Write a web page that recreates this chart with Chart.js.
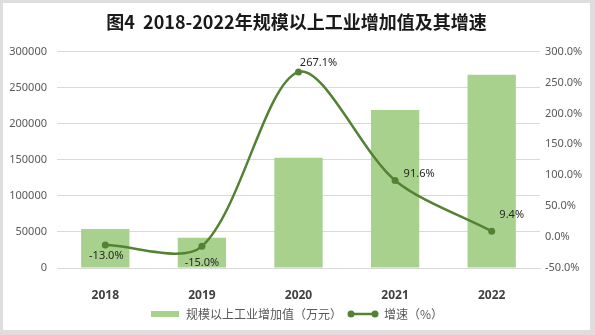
<!DOCTYPE html>
<html>
<head>
<meta charset="utf-8">
<script src="https://cdn.jsdelivr.net/npm/chart.js@4.4.1/dist/chart.umd.min.js"></script>
<style>
    html, body { margin: 0; padding: 0; background: #fff; }
    #frame {
        box-sizing: border-box;
        width: 595px;
        height: 335px;
        border-style: solid;
        border-color: #dedede;
        border-width: 3px 5px 5px 3px;
        background: #fff;
    }
    #frame canvas { display: block; }
</style>
</head>
<body>
<div id="frame"><canvas id="chart" width="587" height="327"></canvas></div>
<script>
// values
const years = ['2018', '2019', '2020', '2021', '2022'];
const addedValue = [54000, 42000, 153000, 219000, 268000];   // 万元
const growthRate = [-13.0, -15.0, 267.1, 91.6, 9.4];          // %

const BAR_COLOR = '#a9d18e';
const LINE_COLOR = '#548235';
const TICK_COLOR = '#595959';
const FONT = '"Noto Sans", "Noto Sans CJK SC", sans-serif';

// label offsets relative to each point (dx, dy), as Excel placed them
const labelOffsets = [[1, 11], [0, 16], [20, -9], [24, -7], [20, -16]];

// legend swatches: bar patch and line-with-markers
function barSwatch() {
    const c = document.createElement('canvas');
    c.width = 28; c.height = 6;
    const ctx = c.getContext('2d');
    ctx.fillStyle = BAR_COLOR;
    ctx.fillRect(0, 0, 28, 6);
    return c;
}

function lineSwatch() {
    const c = document.createElement('canvas');
    c.width = 32; c.height = 10;
    const ctx = c.getContext('2d');
    ctx.strokeStyle = LINE_COLOR;
    ctx.fillStyle = LINE_COLOR;
    ctx.lineWidth = 2.5;
    ctx.beginPath();
    ctx.moveTo(4, 5);
    ctx.lineTo(28, 5);
    ctx.stroke();
    [4, 28].forEach((x) => {
        ctx.beginPath();
        ctx.arc(x, 5, 3.5, 0, Math.PI * 2);
        ctx.fill();
    });
    return c;
}

const swatches = [barSwatch(), lineSwatch()];

const pointLabels = {
    id: 'pointLabels',
    afterDatasetsDraw(chart) {
        const meta = chart.getDatasetMeta(1);
        const { ctx } = chart;
        ctx.save();
        ctx.font = `11px ${FONT}`;
        ctx.fillStyle = '#262626';
        ctx.textAlign = 'center';
        ctx.textBaseline = 'middle';
        meta.data.forEach((pt, i) => {
            const [dx, dy] = labelOffsets[i];
            ctx.fillText(`${growthRate[i].toFixed(1)}%`, pt.x + dx, pt.y + dy);
        });
        ctx.restore();
    },
};

new Chart(document.getElementById('chart'), {
    type: 'bar',
    data: {
        labels: years,
        datasets: [
            {
                type: 'bar',
                label: '规模以上工业增加值（万元）',
                data: addedValue,
                backgroundColor: BAR_COLOR,
                barPercentage: 0.5,
                categoryPercentage: 1.0,
                yAxisID: 'y',
                order: 1,
            },
            {
                type: 'line',
                label: '增速（%）',
                data: growthRate,
                borderColor: LINE_COLOR,
                backgroundColor: LINE_COLOR,
                borderWidth: 2.5,
                pointRadius: 3.5,
                pointBackgroundColor: LINE_COLOR,
                pointBorderWidth: 0,
                tension: 0.3,
                yAxisID: 'y2',
                order: 0,
            },
        ],
    },
    options: {
        responsive: false,
        animation: false,
        layout: { padding: { top: 0, bottom: 0, left: 0, right: 0 } },
        plugins: {
            tooltip: { enabled: false },
            title: {
                display: true,
                text: '图4  2018-2022年规模以上工业增加值及其增速',
                color: '#1a1a1a',
                font: { family: '"Noto Sans CJK SC", sans-serif', size: 18, weight: 'bold' },
                padding: { top: 8, bottom: 19 },
            },
            legend: {
                position: 'bottom',
                labels: {
                    usePointStyle: true,
                    pointStyleWidth: 30,
                    padding: 6,
                    color: TICK_COLOR,
                    font: { family: '"Noto Sans CJK SC", sans-serif', size: 12 },
                    generateLabels: (chart) => chart.data.datasets.map((ds, i) => ({
                        text: ds.label,
                        fillStyle: LINE_COLOR,
                        strokeStyle: LINE_COLOR,
                        fontColor: TICK_COLOR,
                        lineWidth: 0,
                        pointStyle: swatches[i],
                        hidden: false,
                        datasetIndex: i,
                    })),
                },
            },
        },
        scales: {
            x: {
                grid: { display: false },
                border: { display: true, color: '#d9d9d9', width: 1 },
                ticks: {
                    color: '#404040',
                    padding: 12,
                    font: { family: FONT, size: 12, weight: 'bold' },
                },
                afterFit: (scale) => { scale.height = 34; },
            },
            y: {
                position: 'left',
                min: 0,
                max: 300000,
                border: { display: false },
                grid: { color: '#d9d9d9', borderDash: [2, 2], drawTicks: false },
                ticks: {
                    stepSize: 50000,
                    color: TICK_COLOR,
                    padding: 10,
                    font: { family: FONT, size: 11 },
                    callback: (v) => String(v),
                },
                afterFit: (scale) => { scale.width = 54; },
            },
            y2: {
                position: 'right',
                min: -50,
                max: 300,
                border: { display: false },
                grid: { display: false, drawTicks: false },
                ticks: {
                    stepSize: 50,
                    color: TICK_COLOR,
                    padding: 5,
                    font: { family: FONT, size: 11 },
                    callback: (v) => `${v.toFixed(1)}%`,
                },
                afterFit: (scale) => { scale.width = 50; },
            },
        },
    },
    plugins: [pointLabels],
});
</script>
</body>
</html>
